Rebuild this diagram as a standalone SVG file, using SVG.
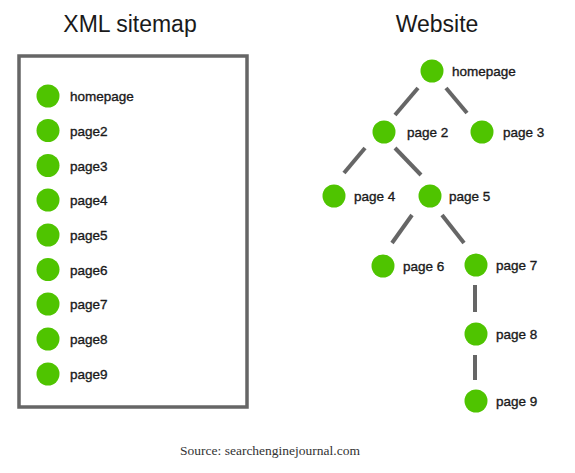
<svg xmlns="http://www.w3.org/2000/svg" width="575" height="473" viewBox="0 0 575 473">
<style>
.t{font-family:"Liberation Sans",Arial,sans-serif;fill:#1a1a1a}
.h{font-size:23px}
.l{font-size:13.5px;stroke:#1a1a1a;stroke-width:0.35}
.n{fill:#4fc400}
.e{stroke:#666;stroke-width:4}
.s{font-family:"Liberation Serif","Times New Roman",serif;font-size:13.5px;fill:#333}
</style>
<rect width="575" height="473" fill="#fff"/>
<text class="t h" x="130" y="32" text-anchor="middle">XML sitemap</text>
<text class="t h" x="437" y="32" text-anchor="middle">Website</text>
<rect id="sitemap-box" x="19" y="56" width="228" height="351" fill="none" stroke="#666" stroke-width="3.5"/>
<g id="sm-homepage"><circle class="n" cx="48" cy="96" r="11.5"/><text class="t l" x="70" y="101">homepage</text></g>
<g id="sm-page2"><circle class="n" cx="48" cy="130.5" r="11.5"/><text class="t l" x="70" y="135.5">page2</text></g>
<g id="sm-page3"><circle class="n" cx="48" cy="165.5" r="11.5"/><text class="t l" x="70" y="170.5">page3</text></g>
<g id="sm-page4"><circle class="n" cx="48" cy="200" r="11.5"/><text class="t l" x="70" y="205">page4</text></g>
<g id="sm-page5"><circle class="n" cx="48" cy="235" r="11.5"/><text class="t l" x="70" y="240">page5</text></g>
<g id="sm-page6"><circle class="n" cx="48" cy="269.5" r="11.5"/><text class="t l" x="70" y="274.5">page6</text></g>
<g id="sm-page7"><circle class="n" cx="48" cy="304" r="11.5"/><text class="t l" x="70" y="309">page7</text></g>
<g id="sm-page8"><circle class="n" cx="48" cy="339" r="11.5"/><text class="t l" x="70" y="344">page8</text></g>
<g id="sm-page9"><circle class="n" cx="48" cy="374" r="11.5"/><text class="t l" x="70" y="379">page9</text></g>
<g id="connectors" class="e">
<line x1="418" y1="88" x2="395" y2="115"/>
<line x1="446" y1="88" x2="467" y2="113"/>
<line x1="365" y1="148" x2="344" y2="173"/>
<line x1="395" y1="148" x2="421" y2="175"/>
<line x1="412" y1="215" x2="392" y2="243"/>
<line x1="442" y1="215" x2="464" y2="243"/>
<line x1="475" y1="285" x2="475" y2="312"/>
<line x1="475" y1="355" x2="475" y2="380"/>
</g>
<g id="homepage"><circle class="n" cx="432" cy="71" r="11.5"/><text class="t l" x="452" y="76">homepage</text></g>
<g id="page2"><circle class="n" cx="384" cy="132" r="11.5"/><text class="t l" x="407" y="137">page 2</text></g>
<g id="page3"><circle class="n" cx="482" cy="132" r="11.5"/><text class="t l" x="503" y="137">page 3</text></g>
<g id="page4"><circle class="n" cx="334" cy="196" r="11.5"/><text class="t l" x="354" y="201">page 4</text></g>
<g id="page5"><circle class="n" cx="430" cy="196" r="11.5"/><text class="t l" x="449" y="201">page 5</text></g>
<g id="page6"><circle class="n" cx="383" cy="266" r="11.5"/><text class="t l" x="403" y="271">page 6</text></g>
<g id="page7"><circle class="n" cx="476" cy="265" r="11.5"/><text class="t l" x="496" y="270">page 7</text></g>
<g id="page8"><circle class="n" cx="476" cy="334" r="11.5"/><text class="t l" x="496" y="339">page 8</text></g>
<g id="page9"><circle class="n" cx="476" cy="401" r="11.5"/><text class="t l" x="496" y="406">page 9</text></g>
<text class="s" x="270" y="455" text-anchor="middle" font-size="14">Source: searchenginejournal.com</text>
</svg>
